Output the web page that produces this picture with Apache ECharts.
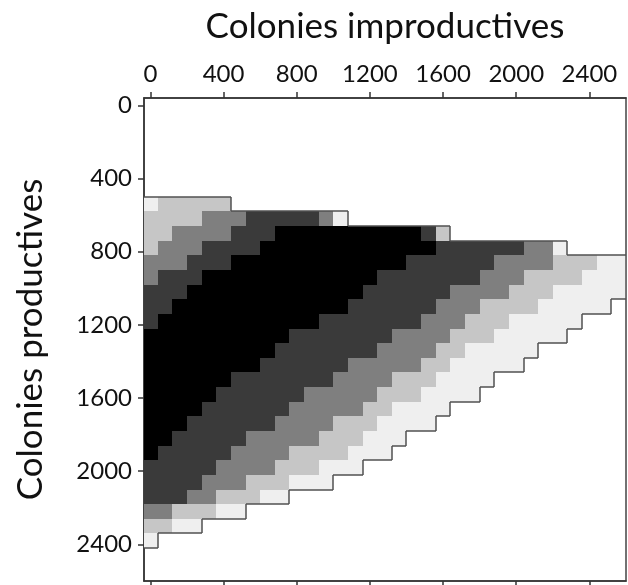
<!DOCTYPE html>
<html>
<head>
<meta charset="utf-8">
<title>Colonies productives / improductives</title>
<script src="https://cdn.jsdelivr.net/npm/echarts@6/dist/echarts.min.js"></script>
<style>
    html, body { margin: 0; padding: 0; background: #fff; }
    #main { width: 628px; height: 585px; }
</style>
</head>
<body>
<div id="main"></div>
<script>
// centres des cases en x (colonies improductives)
var xCells = [0, 80, 160, 240, 320, 400, 480, 560, 640, 720, 800, 880, 960, 1040, 1120, 1200, 1280,
    1360, 1440, 1520, 1600, 1680, 1760, 1840, 1920, 2000, 2080, 2160, 2240, 2320, 2400, 2480, 2560];
// centres des cases en y (colonies productives)
var yCells = [540, 620, 700, 780, 860, 940, 1020, 1100, 1180, 1260, 1340, 1420, 1500, 1580, 1660,
    1740, 1820, 1900, 1980, 2060, 2140, 2220, 2300, 2380];
// niveau de chaque case, une ligne par valeur de y (0 = vide, 1 = clair ... 5 = noir)
var levelRows = [
    "122222",
    "22223334444431",
    "223333444555555555542",
    "23334444555555555555444444331",
    "333444555555555555444444333322211",
    "344455555555555544444443332222111",
    "444555555555555444444333322211111",
    "44555555555555444444333222211111",
    "455555555555444444433322211111",
    "55555555554444444333322211111",
    "555555555444444433332211111",
    "55555555444444333332211111",
    "555555444444433332221111",
    "55555444444333332221111",
    "555544444433333221111",
    "55544444433332221111",
    "554444433333222111",
    "54444433332222111",
    "444443333222111",
    "4444333222111",
    "4443322211",
    "3322211",
    "2211",
    "1"
];
var tickValues = [0, 400, 800, 1200, 1600, 2000, 2400];
var levelColors = ['#ffffff', '#efefef', '#c6c6c6', '#7f7f7f', '#3a3a3a', '#000000'];

function filled(i, k){
    if (k < 0 || k >= levelRows.length) return false;
    var row = levelRows[k];
    if (i < 0 || i >= row.length) return false;
    return row.charAt(i) !== '0';
}

// rectangle d'une case en pixels (arrondi pour eviter les joints)
function cellBox(api){
    var x = api.value(0), y = api.value(1);
    var half = 40;
    var p0 = api.coord([x - half, y - half]);
    var p1 = api.coord([x + half, y + half]);
    return {
        x0: Math.round(Math.min(p0[0], p1[0])),
        x1: Math.round(Math.max(p0[0], p1[0])),
        y0: Math.round(Math.min(p0[1], p1[1])),
        y1: Math.round(Math.max(p0[1], p1[1]))
    };
}

function renderCell(params, api){
    var b = cellBox(api);
    return {
        type: 'rect',
        shape: { x: b.x0, y: b.y0, width: b.x1 - b.x0, height: b.y1 - b.y0 },
        style: { fill: levelColors[api.value(2)] }
    };
}

// contour autour de la zone remplie
function renderEdge(params, api){
    var b = cellBox(api);
    var i = api.value(3), k = api.value(4);
    var st = { stroke: '#505050', lineWidth: 1.5 };
    var lines = [];
    if (!filled(i, k - 1)) lines.push({ type: 'line', shape: { x1: b.x0, y1: b.y0, x2: b.x1, y2: b.y0 }, style: st });
    if (!filled(i, k + 1)) lines.push({ type: 'line', shape: { x1: b.x0, y1: b.y1, x2: b.x1, y2: b.y1 }, style: st });
    if (!filled(i - 1, k)) lines.push({ type: 'line', shape: { x1: b.x0, y1: b.y0, x2: b.x0, y2: b.y1 }, style: st });
    if (!filled(i + 1, k)) lines.push({ type: 'line', shape: { x1: b.x1, y1: b.y0, x2: b.x1, y2: b.y1 }, style: st });
    return { type: 'group', children: lines };
}

var cells = [];
for (var k = 0; k < levelRows.length; k++){
    for (var i = 0; i < levelRows[k].length; i++){
        var lv = +levelRows[k].charAt(i);
        if (lv > 0) cells.push([xCells[i], yCells[k], lv, i, k]);
    }
}

var myChart = echarts.init(document.getElementById('main'));
var axisColor = '#333';
var font = 'Lato';
// pas de separateur de milliers
var plainLabel = function(v){ return String(v); };

var option = {
    animation: false,
    backgroundColor: '#fff',
    grid: {
        left: 144, top: 98, width: 482, height: 483,
        show: true, borderColor: '#444', borderWidth: 1.5
    },
    xAxis: [{
        type: 'value',
        position: 'top',
        min: -35, max: 2600,
        name: 'Colonies improductives',
        nameLocation: 'middle',
        nameGap: 54,
        nameTextStyle: { fontFamily: font, fontSize: 35, color: '#111' },
        axisLine: { show: true, onZero: false, lineStyle: { color: axisColor, width: 1.5 } },
        axisTick: { show: true, length: 6, customValues: tickValues, lineStyle: { color: axisColor, width: 1.5 } },
        axisLabel: { customValues: tickValues, formatter: plainLabel, fontFamily: font, fontSize: 24, color: '#111', margin: 12 },
        splitLine: { show: false }
    }, {
        type: 'value',
        position: 'bottom',
        min: -35, max: 2600,
        axisLine: { show: true, onZero: false, lineStyle: { color: axisColor, width: 1.5 } },
        axisTick: { show: true, length: 6, customValues: tickValues, lineStyle: { color: axisColor, width: 1.5 } },
        axisLabel: { show: false },
        splitLine: { show: false }
    }],
    yAxis: {
        type: 'value',
        inverse: true,
        min: -40, max: 2600,
        name: 'Colonies productives',
        nameLocation: 'middle',
        nameGap: 96,
        nameRotate: 90,
        nameTextStyle: { fontFamily: font, fontSize: 35, color: '#111' },
        axisLine: { show: true, onZero: false, lineStyle: { color: axisColor, width: 1.5 } },
        axisTick: { show: true, length: 6, customValues: tickValues, lineStyle: { color: axisColor, width: 1.5 } },
        axisLabel: { customValues: tickValues, formatter: plainLabel, fontFamily: font, fontSize: 24, color: '#111', margin: 12 },
        splitLine: { show: false }
    },
    series: [{
        type: 'custom',
        xAxisIndex: 0,
        yAxisIndex: 0,
        clip: true,
        renderItem: renderCell,
        data: cells,
        z: 2
    }, {
        type: 'custom',
        xAxisIndex: 0,
        yAxisIndex: 0,
        clip: true,
        renderItem: renderEdge,
        data: cells,
        z: 3
    }]
};
myChart.setOption(option);
</script>
</body>
</html>
